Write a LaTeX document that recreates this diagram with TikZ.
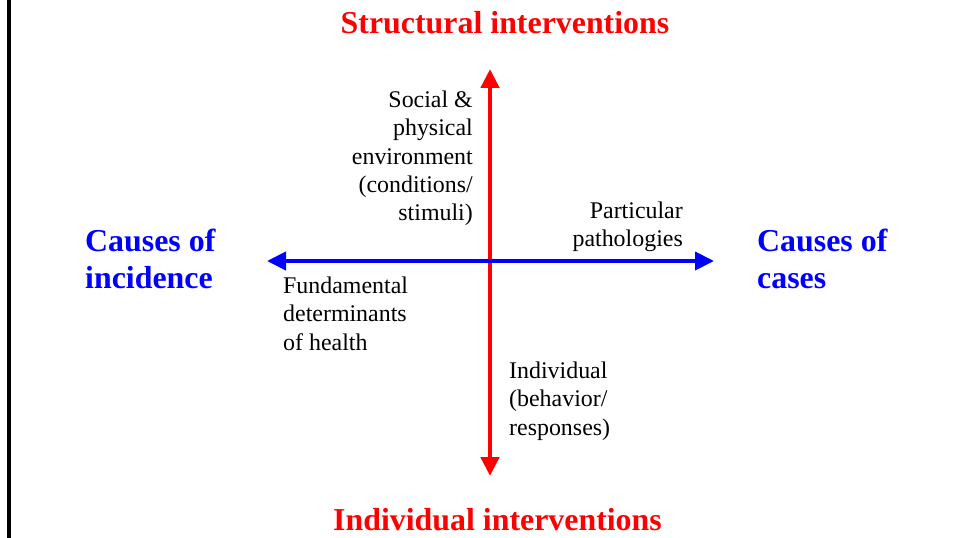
\documentclass[tikz,border=0pt]{standalone}
\usepackage{fontspec}
\setmainfont{Liberation Serif}
\usetikzlibrary{arrows.meta}
\definecolor{axisred}{RGB}{255,0,0}
\definecolor{axisblue}{RGB}{0,0,255}
\begin{document}
\begin{tikzpicture}[x=1bp,y=-1bp,
  heading/.style={inner sep=0pt,font=\fontsize{32}{37.5}\selectfont\bfseries,align=left},
  smalltext/.style={inner sep=0pt,font=\fontsize{24}{28.5}\selectfont},
  axis/.style={line width=4.5bp,-{Triangle[width=18bp,length=19bp]}}]
\useasboundingbox (0,0) rectangle (957,538);
\fill[white] (0,0) rectangle (957,538);
% frame edge on the left
\coordinate (edgetop) at (9,0);
\coordinate (edgebot) at (9,538);
\draw[line width=4bp] (edgetop) -- (edgebot);
% axis end points
\coordinate (vtop) at (490,69);
\coordinate (vbot) at (490,476);
\coordinate (hleft) at (267,261);
\coordinate (hright) at (714,261);
\coordinate (origin) at (490,261);
\draw[axis,axisred] (origin) -- (vtop);
\draw[axis,axisred] (origin) -- (vbot);
\draw[axis,axisblue,line width=4bp] (origin) -- (hleft);
\draw[axis,axisblue,line width=4bp] (origin) -- (hright);
% headings
\node[heading,text=axisred,anchor=base] (struct) at (505,34) {Structural interventions};
\node[heading,text=axisred,anchor=base] (indiv) at (497.5,530.5) {Individual interventions};
\node[heading,text=axisblue,anchor=base west] (incid1) at (85,252) {Causes of};
\node[heading,text=axisblue,anchor=base west] (incid2) at (85,289) {incidence};
\node[heading,text=axisblue,anchor=base west] (cases1) at (757,252) {Causes of};
\node[heading,text=axisblue,anchor=base west] (cases2) at (757,289) {cases};
% quadrant labels
\node[smalltext,align=right,anchor=north east] (social) at (473,90.5)
  {Social \&\\physical\\environment\\(conditions/\\stimuli)};
\node[smalltext,align=right,anchor=north east] (patho) at (683,201.5)
  {Particular\\pathologies};
\node[smalltext,align=left,anchor=north west] (fund) at (283,276.5)
  {Fundamental\\determinants\\of health};
\node[smalltext,align=left,anchor=north west] (behav) at (509,361.5)
  {Individual\\(behavior/\\responses)};
\end{tikzpicture}
\end{document}
